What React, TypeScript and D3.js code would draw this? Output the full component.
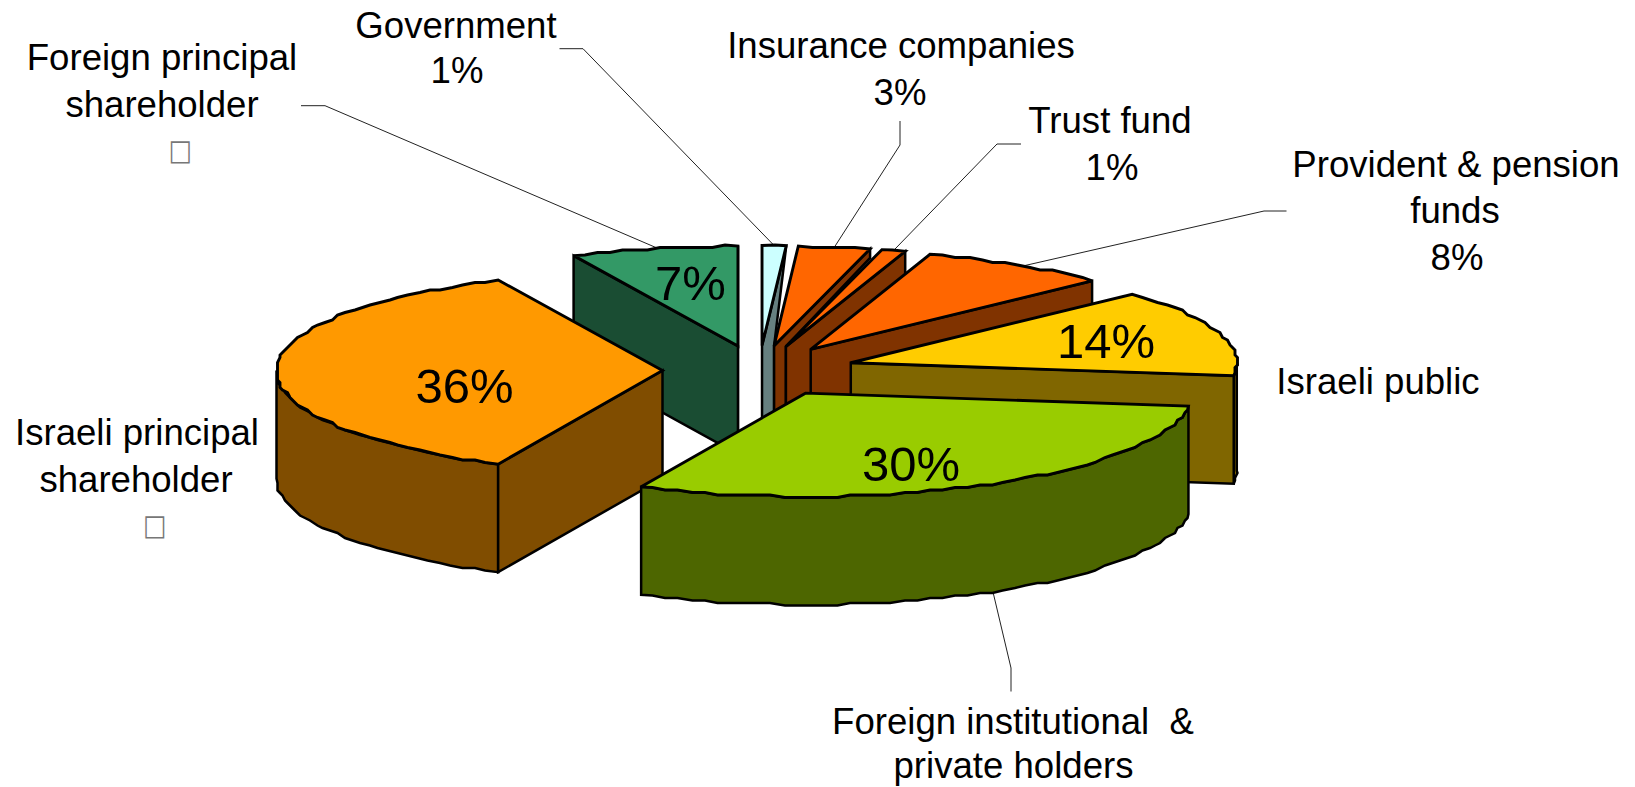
import React from "react";
import * as d3 from "d3";

// ---- data ----
const categories = [
  "Government",
  "Insurance companies",
  "Trust fund",
  "Provident & pension funds",
  "Israeli public",
  "Foreign institutional & private holders",
  "Israeli principal shareholder",
  "Foreign principal shareholder",
];
const shares = [1, 3, 1, 8, 14, 30, 36, 7];
const topColors = ["#CCFFFF", "#FF6600", "#FF6600", "#FF6600", "#FFCC00", "#99CC00", "#FF9900", "#339966"];
const sideColors = ["#668080", "#803300", "#803300", "#803300", "#806600", "#4D6600", "#804D00", "#1A4D33"];
const paintOrder = [7, 0, 1, 2, 3, 4, 6, 5];
const taperedFaces = [0, 1];
const taperDrop = [0, 9];
const insidePercent = [false, false, false, false, true, true, true, true];

// outside-label text lines (baseline positions belong to the layout below)
const labelLines = [
  ["Government", "1%"],
  ["Insurance companies", "3%"],
  ["Trust fund", "1%"],
  ["Provident & pension", "funds", "8%"],
  ["Israeli public"],
  ["Foreign institutional  &", "private holders"],
  ["Israeli principal", "shareholder"],
  ["Foreign principal", "shareholder"],
];

// ---- layout ----
const W = 1635, H = 787;
const CX = 759, CY = 370.5, RX = 386, RY_BACK = 100, RY_FRONT = 103.5, DEPTH = 108, EXPLODE = 0.25;
const FONT = "'Liberation Sans', Arial, sans-serif";
const labelLayout = [
  { lines: [[456, 37.5], [457, 83]] },
  { lines: [[901, 58], [900, 105]] },
  { lines: [[1110, 132.5], [1112, 180]] },
  { lines: [[1456, 176.5], [1455, 223], [1457, 270]] },
  { lines: [[1378, 393.5]] },
  { lines: [[1013, 734], [1013.5, 778]] },
  { lines: [[137, 445], [136, 491.5]] },
  { lines: [[162, 70], [162, 117]] },
];
const percentLayout = [null, null, null, null, [1106, 358], [911, 480.5], [464.5, 403], [690.5, 300]];
const leaderElbows = [
  [[559.5, 48.7], [583, 48.7]],
  [[900, 121], [900, 145]],
  [[1021, 144], [997, 144]],
  [[1286.5, 211], [1264, 211]],
  [],
  [[1011, 691.5], [1011, 668]],
  [],
  [[301, 105.7], [325, 105.7]],
];
const leaderNudgeDeg = [0, 0, 0, 1, 0, -0.25, 0, 0.6];
const tofuBoxes = [[180.5, 150], [155, 524.5]];

type P = [number, number];

const pieGen = d3.pie<number>().sort(null).startAngle(0).endAngle(2 * Math.PI);
const arcs = pieGen(shares);
const sx = d3.scaleLinear().domain([-1, 1]).range([-RX, RX]);
const sy = d3.scaleLinear().domain([-1, 0, 1]).range([-RY_FRONT, 0, RY_BACK]);
const lineGen = d3.line<P>();

const mid = (a: d3.PieArcDatum<number>) => (a.startAngle + a.endAngle) / 2;
const apexes: P[] = arcs.map((a) => [
  CX + EXPLODE * sx(Math.sin(mid(a))),
  CY - EXPLODE * sy(Math.cos(mid(a))),
]);
const rimPoint = (apex: P, t: number): P => [apex[0] + sx(Math.sin(t)), apex[1] - sy(Math.cos(t))];

// The reference's rim is a coarse, slightly stepped outline: snap rim samples to a small grid.
function rim(apex: P, t0: number, t1: number): P[] {
  const step = (2 * Math.PI) / 180;
  const n = Math.max(1, Math.round((t1 - t0) / step));
  const ts = d3.range(n + 1).map((i) => t0 + ((t1 - t0) * i) / n);
  return ts.map((t, i) => {
    const p = rimPoint(apex, t);
    if (i === 0 || i === n) return p;
    return [Math.round(p[0] / 2.5) * 2.5, Math.round(p[1] / 2.5) * 2.5] as P;
  });
}
const down = (ps: P[]): P[] => ps.map(([x, y]) => [x, y + DEPTH]);
const closed = (ps: P[]) => lineGen(ps)! + "Z";

function Slice({ i }: { i: number }) {
  const a = arcs[i];
  const apex = apexes[i];
  const t0 = a.startAngle, t1 = a.endAngle;
  const faces: string[] = [];

  // outer wall, only the part that faces the viewer
  const f0 = Math.max(t0, Math.PI / 2), f1 = Math.min(t1, (3 * Math.PI) / 2);
  if (f1 > f0) {
    const r = rim(apex, f0, f1);
    faces.push(closed([...r, ...down(r).reverse()]));
  }
  // cut walls
  if (Math.sin(t1) > 0) {
    const c = rimPoint(apex, t1);
    const tIdx = taperedFaces.indexOf(i);
    if (tIdx >= 0) {
      const n = apexes[i + 1];
      faces.push(
        closed([apex, c, [c[0], c[1] + taperDrop[tIdx]], n, [n[0], n[1] + DEPTH], [apex[0], apex[1] + DEPTH]])
      );
    } else {
      faces.push(closed([apex, c, [c[0], c[1] + DEPTH], [apex[0], apex[1] + DEPTH]]));
    }
  }
  if (Math.sin(t0) < 0) {
    const c = rimPoint(apex, t0);
    faces.push(closed([apex, c, [c[0], c[1] + DEPTH], [apex[0], apex[1] + DEPTH]]));
  }
  const top = closed([apex, ...rim(apex, t0, t1)]);
  return (
    <g stroke="#000" strokeLinejoin="miter" strokeMiterlimit={3}>
      {faces.map((d, k) => (
        <path key={k} d={d} fill={sideColors[i]} strokeWidth={2.5} />
      ))}
      <path d={top} fill={topColors[i]} strokeWidth={2.9} />
    </g>
  );
}

export default function App() {
  return (
    <svg
      width={W}
      height={H}
      viewBox={`0 0 ${W} ${H}`}
      style={{ position: "absolute", left: 0, top: 0, display: "block", background: "#fff" }}
      role="img"
      aria-label={categories.join(", ")}
    >
      {/* leader lines */}
      <g fill="none" stroke="#222" strokeWidth={1}>
        {leaderElbows.map((el, i) => {
          if (!el.length) return null;
          const t = mid(arcs[i]) + (leaderNudgeDeg[i] * Math.PI) / 180;
          let end = rimPoint(apexes[i], t);
          if (Math.cos(t) < 0) end = [end[0], end[1] + DEPTH];
          return <path key={i} d={lineGen([...(el as P[]), end])!} />;
        })}
      </g>

      {paintOrder.map((i) => (
        <Slice key={i} i={i} />
      ))}

      {/* percentages on the slices */}
      <g fontFamily={FONT} fontSize={49} textAnchor="middle" fill="#000">
        {shares.map((s, i) =>
          insidePercent[i] && percentLayout[i] ? (
            <text key={i} x={percentLayout[i]![0]} y={percentLayout[i]![1]}>
              {`${s}%`}
            </text>
          ) : null
        )}
      </g>

      {/* outside labels */}
      <g fontFamily={FONT} fontSize={36.6} textAnchor="middle" fill="#000">
        {labelLines.map((lines, i) =>
          lines.map((ln, k) => (
            <text key={`${i}-${k}`} x={labelLayout[i].lines[k][0]} y={labelLayout[i].lines[k][1]} xmlSpace="preserve">
              {ln}
            </text>
          ))
        )}
      </g>

      {/* the reference's missing-glyph boxes */}
      <g fontFamily="'DejaVu Sans'" fontSize={26} textAnchor="middle" fill="#777">
        {tofuBoxes.map(([x, y], i) => (
          <text key={i} transform={`translate(${x},${y}) scale(0.95,1.12)`} dominantBaseline="central">
            □
          </text>
        ))}
      </g>
    </svg>
  );
}
